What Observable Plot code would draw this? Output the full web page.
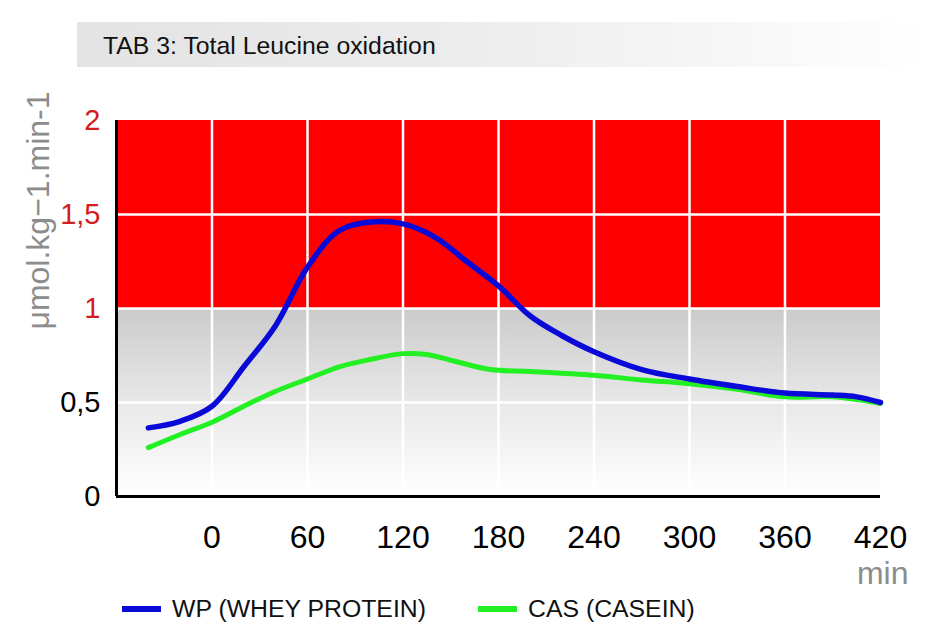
<!DOCTYPE html>
<html>
<head>
<meta charset="utf-8">
<script src="https://cdn.jsdelivr.net/npm/d3@7"></script>
<script src="https://cdn.jsdelivr.net/npm/@observablehq/plot@0.6"></script>
<style>
  html, body { margin: 0; padding: 0; background: #fff; }
  body { width: 931px; height: 644px; position: relative; overflow: hidden; font-family: "Liberation Sans", Arial, sans-serif; }
  #title { position: absolute; left: 77px; top: 22px; width: 850px; height: 45px;
    background: linear-gradient(to right, #e3e3e3 0%, #ececec 45%, #f6f6f6 75%, #ffffff 100%);
    font-size: 24.8px; line-height: 47px; color: #111; padding-left: 26px; box-sizing: border-box; }
  #chart { position: absolute; left: 0; top: 80px; }
  #legend { position: absolute; left: 0; top: 594px; width: 931px; height: 40px; }
  .item { position: absolute; top: 0; height: 30px; display: flex; align-items: center; font-size: 24.8px; color: #111; }
  .sw { width: 39px; height: 6px; margin-right: 11px; }
</style>
</head>
<body>
<div id="title">TAB 3: Total Leucine oxidation</div>
<div id="chart"></div>
<div id="legend"></div>
<script>
// ---- data ----
const seriesNames = ["WP (WHEY PROTEIN)", "CAS (CASEIN)"];
const seriesColors = ["#0a0ad8", "#22f022"];

const wpTime  = [-40, -20, 0, 20, 40, 60, 80, 100, 120, 140, 160, 180, 200, 220, 240, 270, 300, 330, 360, 390, 405, 420];
const wpValue = [0.365, 0.40, 0.48, 0.69, 0.91, 1.22, 1.415, 1.46, 1.45, 1.38, 1.25, 1.12, 0.96, 0.855, 0.77, 0.675, 0.625, 0.585, 0.55, 0.54, 0.53, 0.50];

const casTime  = [-40, -20, 0, 20, 40, 60, 80, 100, 120, 135, 150, 175, 200, 240, 270, 300, 330, 360, 390, 420];
const casValue = [0.26, 0.33, 0.395, 0.48, 0.56, 0.625, 0.69, 0.73, 0.76, 0.755, 0.725, 0.675, 0.665, 0.645, 0.62, 0.60, 0.57, 0.53, 0.53, 0.495];

const xTicks = [0, 60, 120, 180, 240, 300, 360, 420];
const xGrid = [0, 60, 120, 180, 240, 300, 360];
const yTicksRed = [1, 1.5, 2];
const yTicksBlack = [0, 0.5];
const yGrid = [0.5, 1, 1.5];
const xDomain = [-60, 420];
const yDomain = [0, 2];
const yLabel = "μmol.kg−1.min-1";
const xLabel = "min";

// ---- build ----
const wp = wpTime.map((t, i) => ({t, v: wpValue[i]}));
const cas = casTime.map((t, i) => ({t, v: casValue[i]}));
const fmt = d => String(d).replace(".", ",");

const defs = () => {
  const g = d3.create("svg:defs");
  const lg = g.append("linearGradient").attr("id", "grayGrad").attr("x1", 0).attr("y1", 0).attr("x2", 0).attr("y2", 1);
  lg.append("stop").attr("offset", "0%").attr("stop-color", "#cbcbcb");
  lg.append("stop").attr("offset", "50%").attr("stop-color", "#e8e8e8");
  lg.append("stop").attr("offset", "100%").attr("stop-color", "#ffffff");
  return g.node();
};

const plot = Plot.plot({
  width: 931,
  height: 515,
  marginLeft: 116,
  marginRight: 51,
  marginTop: 40,
  marginBottom: 99,
  style: { fontFamily: "'Liberation Sans', Arial, sans-serif", background: "transparent", overflow: "visible" },
  x: { domain: xDomain },
  y: { domain: yDomain },
  marks: [
    defs,
    Plot.rect([{x1: xDomain[0], x2: xDomain[1], y1: 0, y2: 1}], {x1: "x1", x2: "x2", y1: "y1", y2: "y2", fill: "url(#grayGrad)"}),
    Plot.rect([{x1: xDomain[0], x2: xDomain[1], y1: 1, y2: 2}], {x1: "x1", x2: "x2", y1: "y1", y2: "y2", fill: "#ff0000"}),
    Plot.ruleX(xGrid, {y1: yDomain[0], y2: yDomain[1], stroke: "#ffffff", strokeWidth: 2.5}),
    Plot.ruleY(yGrid, {x1: xDomain[0], x2: xDomain[1], stroke: "#ffffff", strokeWidth: 2.5}),
    Plot.line(cas, {x: "t", y: "v", stroke: seriesColors[1], strokeWidth: 5, curve: "catmull-rom"}),
    Plot.line(wp, {x: "t", y: "v", stroke: seriesColors[0], strokeWidth: 5.5, curve: "catmull-rom"}),
    Plot.ruleX([xDomain[0]], {y1: yDomain[0], y2: yDomain[1], stroke: "#000", strokeWidth: 3}),
    Plot.ruleY([yDomain[0]], {x1: xDomain[0], x2: xDomain[1], stroke: "#000", strokeWidth: 3}),
    Plot.axisX({ticks: xTicks, tickSize: 0, tickPadding: 29, fontSize: 32, color: "#000", label: null}),
    Plot.axisY({ticks: yTicksRed, tickSize: 0, tickPadding: 16, fontSize: 29, color: "#d41c1c", tickFormat: fmt, label: null}),
    Plot.axisY({ticks: yTicksBlack, tickSize: 0, tickPadding: 16, fontSize: 29, color: "#000", tickFormat: fmt, label: null}),
    Plot.text([yLabel], {text: d => d, frameAnchor: "left", textAnchor: "middle", rotate: -90, dx: -78, dy: -98, fontSize: 32, fill: "#8c8c8c"}),
    Plot.text([xLabel], {text: d => d, frameAnchor: "bottom-right", textAnchor: "end", dx: 28, dy: 87, fontSize: 32, fill: "#8c8c8c"})
  ]
});
document.getElementById("chart").append(plot);

// legend
const legend = d3.select("#legend");
const lefts = [122, 478];
seriesNames.forEach((name, i) => {
  const item = legend.append("div").attr("class", "item").style("left", lefts[i] + "px");
  item.append("div").attr("class", "sw").style("background", seriesColors[i]);
  item.append("span").text(name);
});
</script>
</body>
</html>
